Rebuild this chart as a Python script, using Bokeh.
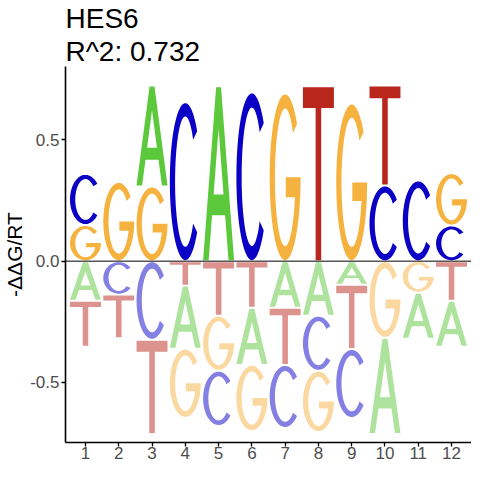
import numpy as np
from bokeh.plotting import figure
from bokeh.models import Span, Title, FixedTicker, PrintfTickFormatter, ColumnDataSource
from bokeh.embed import file_html
from bokeh.resources import INLINE

# ---- data (energy contributions, -ddG/RT) ----
positions = list(range(1, 13))
tick_labels = [str(i) for i in positions]
y_ticks = [-0.5, 0.0, 0.5]
A = [-0.163, 0.0, 0.417, -0.260, 0.721, -0.236, -0.192, -0.225, -0.097, -0.397, -0.190, -0.190]
C = [0.211, -0.138, -0.324, 0.656, -0.228, 0.696, -0.260, -0.227, -0.285, 0.312, 0.333, 0.147]
G = [0.149, 0.327, 0.308, -0.285, -0.227, -0.273, 0.692, -0.253, 0.650, -0.316, -0.130, 0.216]
T = [-0.190, -0.180, -0.389, -0.101, -0.225, -0.192, -0.236, 0.721, -0.265, 0.413, 0.0, -0.163]
title_line1 = "HES6"
title_line2 = "R^2: 0.732"
y_label = "-ΔΔG/RT"

colors = {"A": "#5CC83B", "C": "#0A00C6", "G": "#F5B23F", "T": "#B9261C"}

# ---- unit letter outlines (x, y in [0, 1]) ----
def arc(cx, cy, rx, ry, a0, a1, n=60):
    t = np.radians(np.linspace(a0, a1, n))
    return list(cx + rx * np.cos(t)), list(cy + ry * np.sin(t))

def shape_T():
    x = [0, 1, 1, 0.59, 0.59, 0.41, 0.41, 0]
    y = [1, 1, 0.88, 0.88, 0, 0, 0.88, 0.88]
    return [(x, y)]

def shape_A():
    ox = [0, 0.42, 0.58, 1, 0.82, 0.711, 0.289, 0.18]
    oy = [0, 1, 1, 0, 0, 0.26, 0.26, 0]
    hx = [0.34, 0.5, 0.66]
    hy = [0.38, 0.76, 0.38]
    return [(ox, oy), (hx, hy)]

def shape_C():
    ox, oy = arc(0.5, 0.5, 0.5, 0.5, 40, 320)
    ix, iy = arc(0.5, 0.5, 0.33, 0.415, 320, 40)
    return [(ox + ix, oy + iy)]

def shape_G():
    ox, oy = arc(0.5, 0.5, 0.5, 0.5, 40, 360)
    a_in = 360 - np.degrees(np.arcsin(0.12 / 0.415))
    ix, iy = arc(0.5, 0.5, 0.33, 0.415, a_in, 40)
    bx = [0.52, 0.52]
    by = [0.50, 0.38]
    return [(ox + bx + ix, oy + by + iy)]

templates = {"A": shape_A(), "C": shape_C(), "G": shape_G(), "T": shape_T()}

letter_width = 0.93
inset = 0.004
xs, ys, fills, alphas = [], [], [], []
vals = {"A": A, "C": C, "G": G, "T": T}
for i, pos in enumerate(positions):
    col = [(k, vals[k][i]) for k in "ACGT" if vals[k][i] != 0]
    pos_letters = sorted([c for c in col if c[1] > 0], key=lambda c: c[1])
    neg_letters = sorted([c for c in col if c[1] < 0], key=lambda c: -c[1])
    stacks = []
    base = 0.0
    for k, v in pos_letters:
        stacks.append((k, base, base + v, 1.0))
        base += v
    base = 0.0
    for k, v in neg_letters:
        stacks.append((k, base + v, base, 0.5))
        base += v
    for k, y0, y1, a in stacks:
        y0i, y1i = y0 + inset, y1 - inset
        rings_x, rings_y = [], []
        for rx, ry in templates[k]:
            rings_x.append([pos - letter_width / 2 + letter_width * u for u in rx])
            rings_y.append([y0i + (y1i - y0i) * v for v in ry])
        xs.append([rings_x])
        ys.append([rings_y])
        fills.append(colors[k])
        alphas.append(a)

src = ColumnDataSource(dict(xs=xs, ys=ys, fill=fills, alpha=alphas))

p = figure(frame_width=406, frame_height=376, x_range=(0.4, 12.6), y_range=(-0.748, 0.803),
           output_backend="svg", toolbar_location=None,
           min_border_left=58, min_border_right=0, min_border_top=0, min_border_bottom=0)
p.title = None
p.multi_polygons(xs="xs", ys="ys", source=src, fill_color="fill", fill_alpha="alpha",
                 line_color=None)

p.add_layout(Span(location=0, dimension="width", line_color="black", line_width=1))

t2 = Title(text=title_line2, text_font="Liberation Sans", text_font_size="28px",
           text_font_style="normal", text_color="black", align="left", standoff=0,
           text_line_height=0.88)
t1 = Title(text=title_line1, text_font="Liberation Sans", text_font_size="28px",
           text_font_style="normal", text_color="black", align="left", standoff=0,
           text_line_height=0.88)
p.add_layout(t2, "above")
p.add_layout(t1, "above")

p.xgrid.visible = False
p.ygrid.visible = False
p.outline_line_color = None
p.background_fill_color = "white"

p.xaxis.ticker = FixedTicker(ticks=positions)
p.xaxis.major_label_overrides = {pos: lab for pos, lab in zip(positions, tick_labels)}
p.yaxis.ticker = FixedTicker(ticks=y_ticks)
p.yaxis.formatter = PrintfTickFormatter(format="%.1f")

for ax in (p.xaxis, p.yaxis):
    ax.axis_line_color = "black"
    ax.axis_line_width = 1.6
    ax.major_tick_line_color = "black"
    ax.major_tick_line_width = 1.3
    ax.major_tick_out = 4
    ax.major_tick_in = 0
    ax.minor_tick_line_color = None
    ax.major_label_text_font = "Liberation Sans"
    ax.major_label_text_font_size = "17px"
    ax.major_label_text_color = "#4D4D4D"

p.xaxis.axis_label = None
p.xaxis.axis_label_standoff = 0
p.xaxis.major_label_standoff = 0
p.yaxis.major_label_standoff = 2
p.yaxis.axis_label = y_label
p.yaxis.axis_label_text_font = "Liberation Sans"
p.yaxis.axis_label_text_font_size = "21px"
p.yaxis.axis_label_text_font_style = "normal"
p.yaxis.axis_label_text_color = "black"
p.yaxis.axis_label_standoff = 1

open("out.html", "w").write(file_html(p, INLINE))
